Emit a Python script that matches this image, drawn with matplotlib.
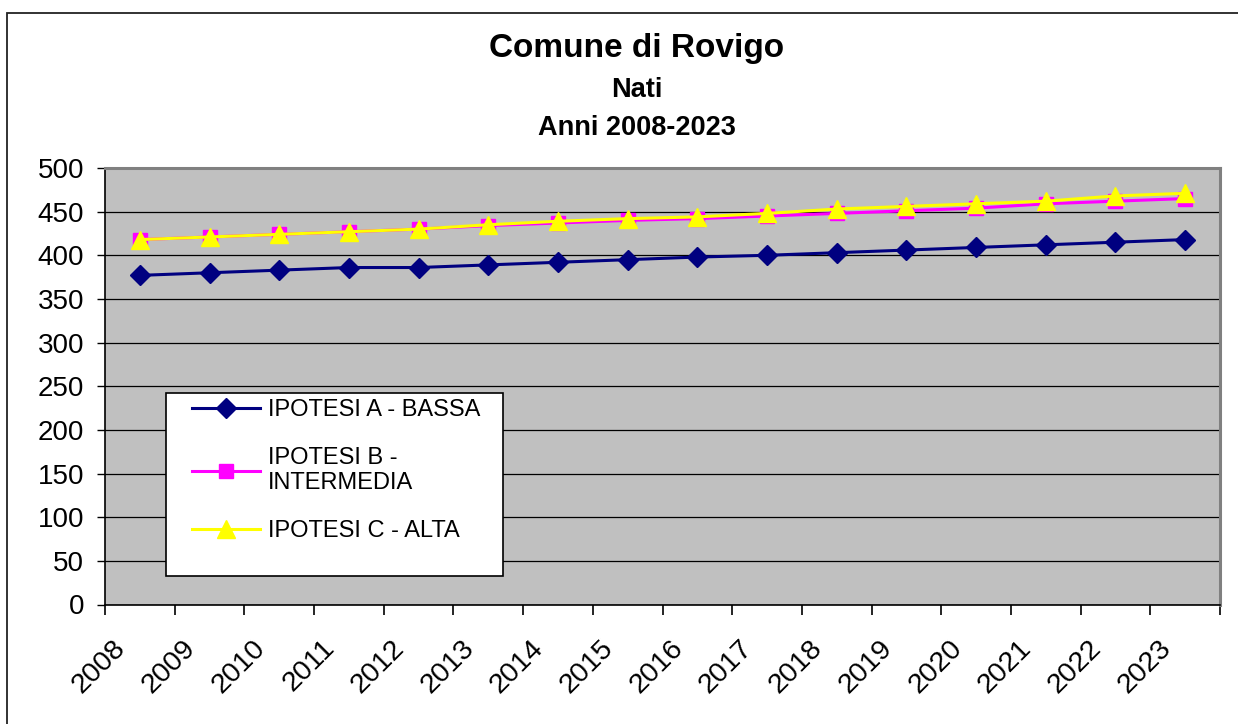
import matplotlib
matplotlib.use("Agg")
import matplotlib.pyplot as plt
import matplotlib.transforms as mtransforms
from matplotlib.patches import Rectangle

plt.rcParams['font.family'] = ['Liberation Sans', 'DejaVu Sans']

years = ['2008', '2009', '2010', '2011', '2012', '2013', '2014', '2015',
         '2016', '2017', '2018', '2019', '2020', '2021', '2022', '2023']
ipotesi_a = [377, 380, 383, 386, 386, 389, 392, 395, 398, 400, 403, 406, 409, 412, 415, 418]
ipotesi_b = [418, 421, 424, 427, 430, 434, 437, 440, 442, 445, 448, 451, 454, 459, 462, 465]
ipotesi_c = [418, 421, 424, 427, 430, 435, 439, 442, 444, 448, 453, 456, 459, 462, 468, 471]
labels = ['IPOTESI A - BASSA', 'IPOTESI B -\nINTERMEDIA', 'IPOTESI C - ALTA']
y_ticks = [0, 50, 100, 150, 200, 250, 300, 350, 400, 450, 500]

W, H = 1238, 724
fig = plt.figure(figsize=(W / 100, H / 100), dpi=100)
fig.patch.set_facecolor('white')

# outer chart border (left/top visible)
fig.add_artist(Rectangle((7 / W, -0.05), 1.2, 1 - 13 / H + 0.05, transform=fig.transFigure,
                         facecolor='none', edgecolor='#222222', lw=1.3, zorder=-1))

ax = fig.add_axes([105 / W, 1 - 604.5 / H, (1220 - 105) / W, (604.5 - 168) / H])
ax.set_facecolor('#C0C0C0')

x = list(range(len(years)))
ax.plot(x, ipotesi_a, color='#000080', lw=2.2, marker='D', ms=10, mec='#000080', mfc='#000080',
        label=labels[0], zorder=3)
ax.plot(x, ipotesi_b, color='#FF00FF', lw=2.2, marker='s', ms=10.5, mec='#FF00FF', mfc='#FF00FF',
        label=labels[1], zorder=3)
ax.plot(x, ipotesi_c, color='#FFFF00', lw=2.2, marker='^', ms=13, mec='#FFFF00', mfc='#FFFF00',
        label=labels[2], zorder=4)

ax.set_xlim(-0.5, len(years) - 0.5)
ax.set_ylim(0, 500)
ax.set_yticks(y_ticks)
ax.set_yticklabels([str(v) for v in y_ticks], fontsize=20)
ax.tick_params(axis='y', length=6, width=1, pad=9, direction='out', color='black')
ax.yaxis.grid(True, color='black', lw=0.9)
ax.set_axisbelow(True)

ax.set_xticks([i - 0.5 for i in range(len(years) + 1)], minor=True)
ax.set_xticks(x)
ax.set_xticklabels(years, fontsize=20.5, rotation=45, ha='right', va='top')
ax.tick_params(axis='x', which='major', length=0, pad=22)
ax.tick_params(axis='x', which='minor', length=7, width=1.2, color='black')
offset = mtransforms.ScaledTranslation(-9 / 100, 0, fig.dpi_scale_trans)
for lbl in ax.get_xticklabels():
    lbl.set_transform(lbl.get_transform() + offset)

for s in ['top', 'right']:
    ax.spines[s].set_color('#808080')
    ax.spines[s].set_linewidth(2.2)
for s in ['left', 'bottom']:
    ax.spines[s].set_color('black')
    ax.spines[s].set_linewidth(1.2)

# titles
fig.text(637 / W, 1 - 48 / H, 'Comune di Rovigo', fontsize=24, fontweight='bold', ha='center', va='center')
fig.text(637 / W, 1 - 90 / H, 'Nati', fontsize=19.5, fontweight='bold', ha='center', va='center')
fig.text(637 / W, 1 - 128 / H, 'Anni 2008-2023', fontsize=19.5, fontweight='bold', ha='center', va='center')

# legend box
fig.add_artist(Rectangle((166 / W, 1 - 576 / H), (503 - 166) / W, (576 - 393) / H,
                         transform=fig.transFigure, facecolor='white', edgecolor='black',
                         lw=1.2, zorder=5))
handles, lbls = ax.get_legend_handles_labels()
leg = fig.legend(handles, lbls, loc='upper left', bbox_to_anchor=(192 / W, 1 - 399 / H),
                 bbox_transform=fig.transFigure, frameon=False, fontsize=17,
                 borderpad=0, borderaxespad=0, handlelength=2.9, handletextpad=0.3,
                 labelspacing=1.1)
leg.set_zorder(6)

fig.savefig('out.png', dpi=100, facecolor='white')
